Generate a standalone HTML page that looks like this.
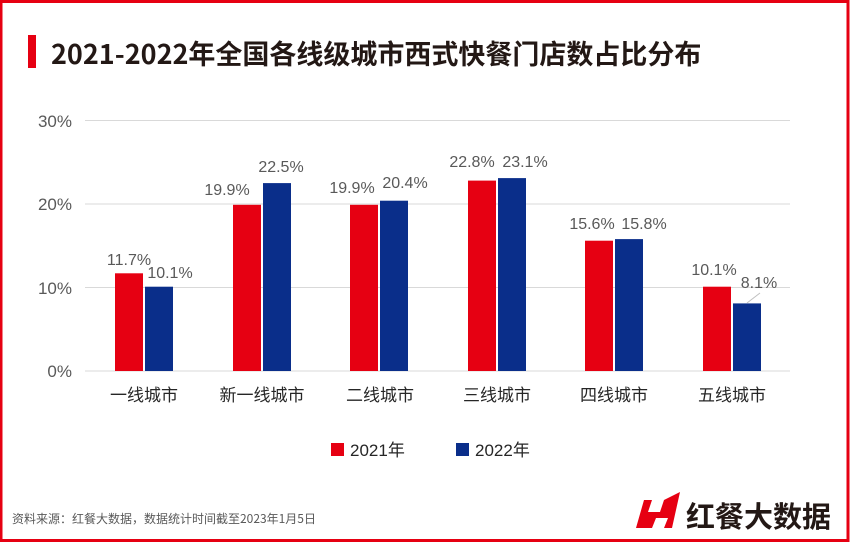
<!DOCTYPE html>
<html><head><meta charset="utf-8"><style>
body{margin:0;width:850px;height:542px;overflow:hidden;background:#fff;font-family:"Liberation Sans","Noto Sans CJK SC",sans-serif;}
</style></head><body>
<svg width="850" height="542" xmlns="http://www.w3.org/2000/svg" font-family="Liberation Sans, Noto Sans CJK SC, sans-serif">
<rect x="1" y="1.5" width="847" height="539" fill="#fff" stroke="#e60012" stroke-width="3"/>
<rect x="28" y="35" width="8" height="33" fill="#e60012"/>
<text x="51" y="64" font-size="27" font-weight="bold" fill="#231815" font-family="Noto Sans CJK SC, sans-serif">2021-2022年全国各线级城市西式快餐门店数占比分布</text>
<g stroke="#d9d9d9" stroke-width="1">
<line x1="85" x2="790" y1="120.5" y2="120.5"/>
<line x1="85" x2="790" y1="204" y2="204"/>
<line x1="85" x2="790" y1="287.5" y2="287.5"/>
<line x1="85" x2="790" y1="371" y2="371"/>
</g>
<g font-size="17" fill="#595959" text-anchor="end">
<text x="72" y="127">30%</text><text x="72" y="210">20%</text><text x="72" y="294">10%</text><text x="72" y="377">0%</text>
</g>
<g id="bars"></g>
<g font-size="16" fill="#595959" text-anchor="middle">
<!-- bars -->
<rect x="115" y="273.3" width="28" height="97.7" fill="#e60012"/><rect x="145" y="286.7" width="28" height="84.3" fill="#0a2e8a"/>
<text x="129" y="265">11.7%</text><text x="170" y="278">10.1%</text>
<rect x="233" y="204.8" width="28" height="166.2" fill="#e60012"/><rect x="263" y="183.1" width="28" height="187.9" fill="#0a2e8a"/>
<text x="227" y="195">19.9%</text><text x="281" y="172">22.5%</text>
<rect x="350" y="204.8" width="28" height="166.2" fill="#e60012"/><rect x="380" y="200.7" width="28" height="170.3" fill="#0a2e8a"/>
<text x="352" y="193">19.9%</text><text x="405" y="188">20.4%</text>
<rect x="468" y="180.6" width="28" height="190.4" fill="#e60012"/><rect x="498" y="178.1" width="28" height="192.9" fill="#0a2e8a"/>
<text x="472" y="167">22.8%</text><text x="525" y="167">23.1%</text>
<rect x="585" y="240.7" width="28" height="130.3" fill="#e60012"/><rect x="615" y="239.1" width="28" height="131.9" fill="#0a2e8a"/>
<text x="592" y="229">15.6%</text><text x="644" y="229">15.8%</text>
<rect x="703" y="286.7" width="28" height="84.3" fill="#e60012"/><rect x="733" y="303.4" width="28" height="67.6" fill="#0a2e8a"/>
<text x="714" y="275">10.1%</text><text x="759" y="288">8.1%</text>
<line x1="747" y1="303" x2="760" y2="293" stroke="#bfbfbf"/>
</g>
<g font-size="17" fill="#262626" text-anchor="middle" font-family="Noto Sans CJK SC, sans-serif">
<text x="144" y="401">一线城市</text><text x="262" y="401">新一线城市</text><text x="380" y="401">二线城市</text>
<text x="497" y="401">三线城市</text><text x="614" y="401">四线城市</text><text x="732" y="401">五线城市</text>
</g>
<rect x="331" y="443" width="13" height="13" fill="#e60012"/>
<text x="350" y="456" font-size="17" fill="#262626" font-family="Liberation Sans, Noto Sans CJK SC, sans-serif">2021年</text>
<rect x="456" y="443" width="13" height="13" fill="#0a2e8a"/>
<text x="475" y="456" font-size="17" fill="#262626" font-family="Liberation Sans, Noto Sans CJK SC, sans-serif">2022年</text>
<text x="12" y="523" font-size="12" fill="#595959" font-family="Noto Sans CJK SC, sans-serif">资料来源：红餐大数据，数据统计时间截至2023年1月5日</text>
<path d="M636 528 L644 500 L652 500 L648 512 L660 512 L664 500 L680 492 L672 528 L664 528 L668 518 L656 518 L652 528 Z" fill="#e60012"/>
<text x="686" y="527" font-size="29" font-weight="bold" fill="#231815" font-family="Noto Sans CJK SC, sans-serif">红餐大数据</text>
</svg>
</body></html>
